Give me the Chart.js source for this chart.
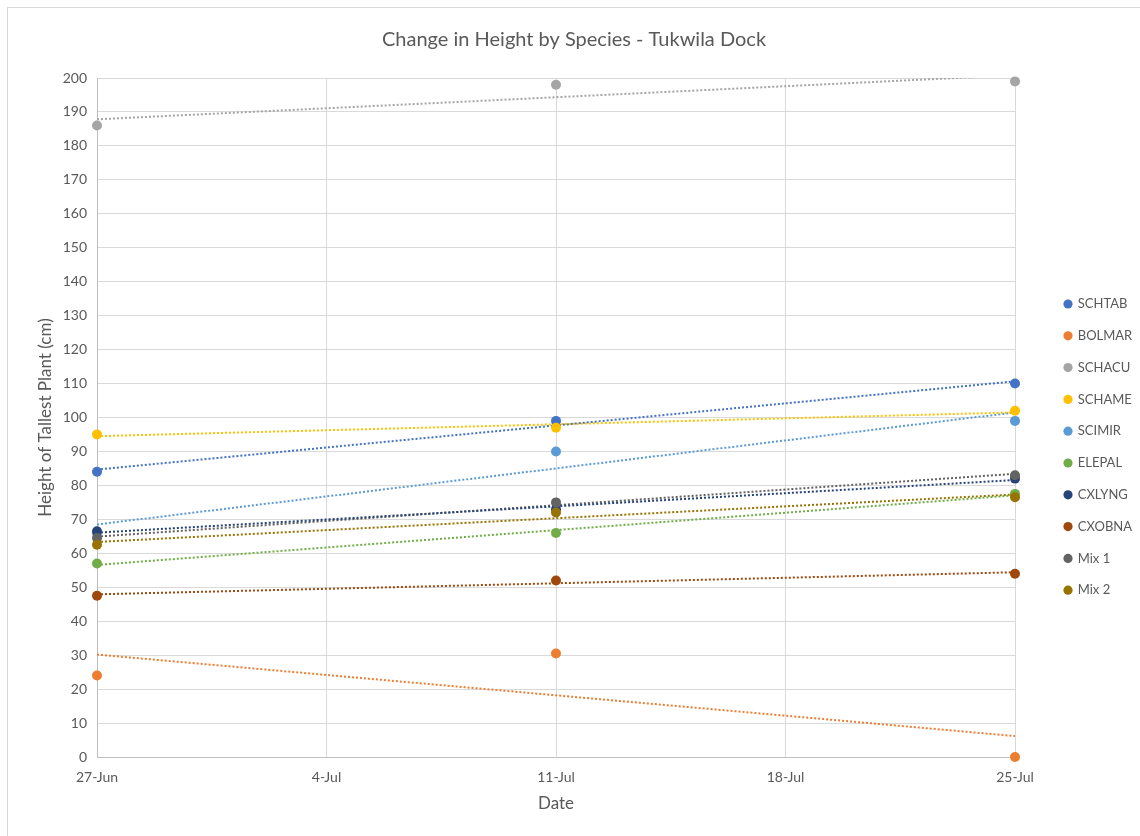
<!DOCTYPE html>
<html>
<head>
<meta charset="utf-8">
<script src="https://cdn.jsdelivr.net/npm/chart.js@4/dist/chart.umd.min.js"></script>
<style>
  html, body { margin: 0; padding: 0; background: #ffffff; }
  #wrap { width: 1140px; height: 836px; }
</style>
</head>
<body>
<div id="wrap"><canvas id="c" width="1140" height="836"></canvas></div>
<script>
// ---- data ----
const sampleDates = ['2019-06-27', '2019-07-11', '2019-07-25'];
const xTickLabels = ['27-Jun', '4-Jul', '11-Jul', '18-Jul', '25-Jul'];
const speciesNames = ['SCHTAB', 'BOLMAR', 'SCHACU', 'SCHAME', 'SCIMIR', 'ELEPAL', 'CXLYNG', 'CXOBNA', 'Mix 1', 'Mix 2'];
const SCHTAB = [84, 99, 110];
const BOLMAR = [24, 30.5, 0];
const SCHACU = [186, 198, 199];
const SCHAME = [95, 97, 102];
const SCIMIR = [66, 90, 99];
const ELEPAL = [57, 66, 77.5];
const CXLYNG = [66.5, 73, 82];
const CXOBNA = [47.5, 52, 54];
const MIX1 = [64.5, 75, 83];
const MIX2 = [62.5, 72, 76.5];
const seriesValues = [SCHTAB, BOLMAR, SCHACU, SCHAME, SCIMIR, ELEPAL, CXLYNG, CXOBNA, MIX1, MIX2];
const seriesColors = ['#4472C4', '#ED7D31', '#A5A5A5', '#FFC000', '#5B9BD5', '#70AD47', '#264478', '#9E480E', '#636363', '#997300'];

// ---- helpers ----
const DAY = 86400000;
const t0 = Date.parse(sampleDates[0]);
const xDays = sampleDates.map(d => Math.round((Date.parse(d) - t0) / DAY));
const xMin = xDays[0], xMax = xDays[xDays.length - 1];

function linReg(xs, ys) {
  const n = xs.length;
  const mx = xs.reduce((a, b) => a + b, 0) / n;
  const my = ys.reduce((a, b) => a + b, 0) / n;
  let sxy = 0, sxx = 0;
  for (let i = 0; i < n; i++) { sxy += (xs[i] - mx) * (ys[i] - my); sxx += (xs[i] - mx) ** 2; }
  const b = sxy / sxx;
  return { a: my - b * mx, b };
}

const datasets = [];
speciesNames.forEach((name, i) => {
  datasets.push({
    label: name,
    data: xDays.map((x, k) => ({ x, y: seriesValues[i][k] })),
    backgroundColor: seriesColors[i],
    borderColor: seriesColors[i],
    pointRadius: 5,
    pointBorderWidth: 0,
    showLine: false,
    clip: false,
    order: -i
  });
});
speciesNames.forEach((name, i) => {
  const r = linReg(xDays, seriesValues[i]);
  datasets.push({
    label: name + ' trend',
    isTrend: true,
    data: [{ x: xMin, y: r.a + r.b * xMin }, { x: xMax, y: r.a + r.b * xMax }],
    borderColor: seriesColors[i],
    backgroundColor: seriesColors[i],
    borderWidth: 2,
    borderDash: [2, 2],
    pointRadius: 0,
    showLine: true,
    order: 10
  });
});

const TXT = '#595959';
const FONT = 'Lato, "Liberation Sans", sans-serif';

const framePlugin = {
  id: 'frame',
  beforeDraw(chart) {
    const ctx = chart.ctx;
    ctx.save();
    ctx.fillStyle = '#ffffff';
    ctx.fillRect(0, 0, chart.width, chart.height);
    ctx.strokeStyle = '#d9d9d9';
    ctx.lineWidth = 1;
    ctx.strokeRect(7.5, 7.5, chart.width + 50, chart.height + 50);
    ctx.restore();
  }
};

const LEGEND_W = 125;
const LEG_PAD = 18.8;
const LEG_BOX = 6.5;
const legendPlace = {
  id: 'legendPlace',
  beforeLayout(chart) {
    const lg = chart.legend;
    if (lg && !lg._fixedFit) {
      const f = lg.fit;
      lg.fit = function () { f.call(this); this.width = LEGEND_W; };
      lg._fixedFit = true;
    }
  },
  afterLayout(chart) {
    const lg = chart.legend;
    if (!lg) return;
    lg.left = 1068 - LEG_PAD - LEG_BOX / 2;
    lg.right = lg.left + LEGEND_W;
    lg.top = 304 - 6.5 - LEG_PAD;
    lg.bottom = chart.height;
    lg.width = lg.right - lg.left;
    lg.height = lg.bottom - lg.top;
  }
};

new Chart(document.getElementById('c'), {
  type: 'scatter',
  data: { datasets },
  plugins: [framePlugin, legendPlace],
  options: {
    responsive: false,
    animation: false,
    layout: { padding: { left: 8, right: 0, top: 0, bottom: 0 } },
    plugins: {
      tooltip: { enabled: false },
      title: {
        display: true,
        text: 'Change in Height by Species - Tukwila Dock',
        color: TXT,
        font: { family: FONT, size: 20, weight: 'normal' },
        padding: { top: 28, bottom: 26 }
      },
      legend: {
        display: true,
        position: 'right',
        align: 'start',
        labels: {
          usePointStyle: true,
          pointStyle: 'circle',
          boxWidth: LEG_BOX,
          boxHeight: LEG_BOX,
          padding: LEG_PAD,
          color: TXT,
          font: { family: FONT, size: 13 },
          filter: (item, data) => !data.datasets[item.datasetIndex].isTrend,
          sort: (a, b) => a.datasetIndex - b.datasetIndex
        }
      }
    },
    scales: {
      x: {
        type: 'linear',
        min: xMin,
        max: xMax,
        afterFit(scale) { scale.height = 79; },
        ticks: {
          stepSize: 7,
          padding: 12,
          color: TXT,
          font: { family: FONT, size: 14 },
          maxRotation: 0,
          callback: (v) => xTickLabels[Math.round((v - xMin) / 7)] ?? ''
        },
        grid: { color: '#d9d9d9', lineWidth: 1, drawTicks: false },
        border: { display: true, color: '#bfbfbf', width: 1 },
        title: {
          display: true,
          text: 'Date',
          color: TXT,
          font: { family: FONT, size: 17 },
          padding: { top: 0, bottom: 22 }
        }
      },
      y: {
        type: 'linear',
        min: 0,
        max: 200,
        afterFit(scale) { scale.width = 89; },
        ticks: {
          stepSize: 10,
          padding: 10,
          color: TXT,
          font: { family: FONT, size: 14 }
        },
        grid: { color: '#d9d9d9', lineWidth: 1, drawTicks: false },
        border: { display: true, color: '#bfbfbf', width: 1 },
        title: {
          display: true,
          text: 'Height of Tallest Plant (cm)',
          color: TXT,
          font: { family: FONT, size: 17 },
          padding: { top: 27, bottom: 0 }
        }
      }
    }
  }
});
</script>
</body>
</html>
